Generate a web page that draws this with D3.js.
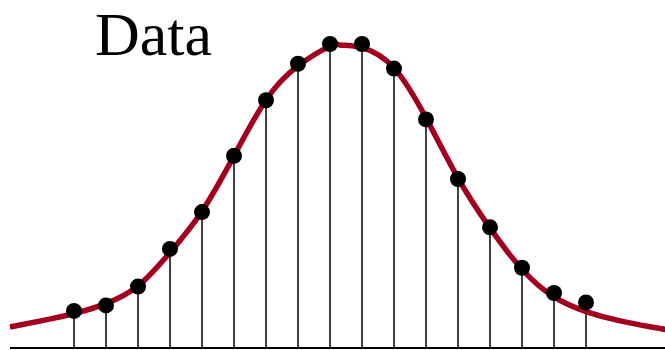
<!DOCTYPE html>
<html>
<head>
<meta charset="utf-8">
<script src="https://cdn.jsdelivr.net/npm/d3@7"></script>
<style>
  html, body { margin: 0; padding: 0; background: #ffffff; }
  svg { display: block; }
</style>
</head>
<body>
<svg id="chart" width="665" height="350"></svg>
<script>
// Measured samples: bin index and observed value
const bins = [0, 1, 2, 3, 4, 5, 6, 7, 8, 9, 10, 11, 12, 13, 14, 15, 16];
const counts = [12.2, 14.0, 20.2, 32.6, 44.7, 63.2, 81.5, 93.5, 100, 100, 91.9, 75.2, 55.6, 39.7, 26.4, 18.1, 15.0];

// Fitted curve, sampled at these positions
const fitX = [-2, -1, 0, 1, 2, 3, 4, 5, 6, 7, 8, 8.3, 9, 10, 11, 12, 13, 14, 15, 16, 17, 18, 18.6];
const fitY = [6.9, 9.0, 11.3, 14.6, 20.4, 31.4, 45.0, 63.2, 81.6, 92.8, 99.3, 99.7, 98.8, 92.1, 75.7, 55.9, 39.5, 25.9, 16.8, 12.0, 9.1, 7.0, 5.9];

const label = "Data";

const svg = d3.select("#chart");

// One bin step is 32px; bin 0 sits at x = 74
const x = d3.scaleLinear().domain([-2, 18.6]).range([10, 669.2]);
const y = d3.scaleLinear().domain([0, 100]).range([348, 44]);

// Baseline axis
svg.append("line")
  .attr("x1", x(-2)).attr("x2", 665)
  .attr("y1", y(0)).attr("y2", y(0))
  .attr("stroke", "#000").attr("stroke-width", 2);

// Stems
svg.append("g").selectAll("line")
  .data(bins)
  .join("line")
  .attr("x1", d => x(d)).attr("x2", d => x(d))
  .attr("y1", y(0))
  .attr("y2", (d, i) => y(counts[i]))
  .attr("stroke", "#000").attr("stroke-width", 1.5);

// Fit curve
const line = d3.line()
  .x(d => x(d[0]))
  .y(d => y(d[1]))
  .curve(d3.curveNatural);

svg.append("path")
  .datum(fitX.map((v, i) => [v, fitY[i]]))
  .attr("d", line)
  .attr("fill", "none")
  .attr("stroke", "#a3001f")
  .attr("stroke-width", 5.5)
  .attr("stroke-linecap", "butt");

// Sample points
svg.append("g").selectAll("circle")
  .data(bins)
  .join("circle")
  .attr("cx", d => x(d))
  .attr("cy", (d, i) => y(counts[i]))
  .attr("r", 8)
  .attr("fill", "#000");

// Title
svg.append("text")
  .attr("x", 95).attr("y", 55)
  .attr("font-family", "'Liberation Serif', 'Times New Roman', serif")
  .attr("font-size", 62)
  .attr("fill", "#000")
  .text(label);
</script>
</body>
</html>
